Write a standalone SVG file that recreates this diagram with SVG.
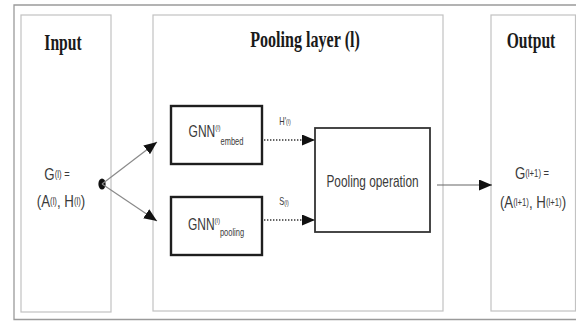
<svg xmlns="http://www.w3.org/2000/svg" width="576" height="322" viewBox="0 0 576 322">
<defs>
<style>
.outer{fill:none;stroke:#9a9a9a;stroke-width:1.3}
.panel{fill:#fff;stroke:#c2c2c2;stroke-width:1.2}
.gnn{fill:#fff;stroke:#1e1e1e;stroke-width:2.4}
.op{fill:#fff;stroke:#333;stroke-width:1.8}
.head{font-family:"Liberation Serif",serif;font-weight:bold;font-size:23px;fill:#1a1a1a;text-anchor:middle}
.lbl{font-family:"Liberation Sans",sans-serif;fill:#3a3a3a;text-anchor:middle}
.conn{stroke:#8a8a8a;stroke-width:1.2;fill:none}
.dot{stroke:#333;stroke-width:1.6;stroke-dasharray:1.4 1.6;fill:none}
</style>
<marker id="ah" markerUnits="userSpaceOnUse" markerWidth="13" markerHeight="11" refX="13" refY="5.5" orient="auto">
<path d="M0,0 L13,5.5 L0,11 z" fill="#111"/>
</marker>
</defs>
<rect width="576" height="322" fill="#fff"/>
<path class="outer" d="M580,5 H14 V319.5 H580"/>

<g id="input">
<rect class="panel" x="21" y="15" width="90" height="297"/>
<text class="head" transform="translate(63,50) scale(0.68,1)">Input</text>
<text class="lbl" font-size="17" transform="translate(57,180) scale(0.78,1)">G<tspan font-size="10" dy="-2">(l)</tspan><tspan font-size="12" dy="0"> =</tspan></text>
<text class="lbl" font-size="17" transform="translate(61,207) scale(0.78,1)">(A<tspan font-size="10" dy="-2">(l)</tspan><tspan dy="2">, H</tspan><tspan font-size="10" dy="-2">(l)</tspan><tspan dy="2">)</tspan></text>
</g>

<g id="pooling-layer">
<rect class="panel" x="153" y="15" width="290" height="296"/>
<text class="head" transform="translate(305,47) scale(0.7,1)">Pooling layer (l)</text>
</g>

<g id="gnn-embed">
<rect class="gnn" x="171" y="106" width="91" height="58"/>
<text class="lbl" font-size="16" transform="translate(216,137) scale(0.75,1)">GNN<tspan font-size="8" dy="-7">(l)</tspan><tspan font-size="10" dy="15">embed</tspan></text>
</g>

<g id="gnn-pooling">
<rect class="gnn" x="171" y="197" width="91" height="58"/>
<text class="lbl" font-size="16" transform="translate(216,230) scale(0.75,1)">GNN<tspan font-size="8" dy="-7">(l)</tspan><tspan font-size="10" dy="13">pooling</tspan></text>
</g>

<g id="pooling-operation">
<rect class="op" x="315" y="128" width="115" height="104"/>
<text class="lbl" font-size="16" transform="translate(372.5,187) scale(0.74,1)">Pooling operation</text>
</g>

<g id="output">
<rect class="panel" x="491" y="15" width="84.5" height="296"/>
<text class="head" transform="translate(531,48) scale(0.68,1)">Output</text>
<text class="lbl" font-size="17" transform="translate(532,179) scale(0.78,1)">G<tspan font-size="10" dy="-2">(l+1)</tspan><tspan font-size="12" dy="0"> =</tspan></text>
<text class="lbl" font-size="17" transform="translate(533,208) scale(0.78,1)">(A<tspan font-size="10" dy="-2">(l+1)</tspan><tspan dy="2">, H</tspan><tspan font-size="10" dy="-2">(l+1)</tspan><tspan dy="2">)</tspan></text>
</g>

<g id="connectors">
<ellipse cx="102" cy="184" rx="3.6" ry="5.5" fill="#111"/>
<line class="conn" x1="102" y1="184" x2="157" y2="142" marker-end="url(#ah)"/>
<line class="conn" x1="102" y1="184" x2="157" y2="221" marker-end="url(#ah)"/>
<line class="dot" x1="264" y1="140" x2="315" y2="140" marker-end="url(#ah)"/>
<line class="dot" x1="264" y1="220" x2="315" y2="220" marker-end="url(#ah)"/>
<line class="conn" x1="437" y1="185" x2="492" y2="185" marker-end="url(#ah)" style="stroke:#666"/>
<text class="lbl" font-size="10" transform="translate(285,125) scale(0.75,1)">H'<tspan font-size="7" dy="-1">(l)</tspan></text>
<text class="lbl" font-size="10" transform="translate(284,205) scale(0.75,1)">S<tspan font-size="7" dy="0">(l)</tspan></text>
</g>
</svg>
